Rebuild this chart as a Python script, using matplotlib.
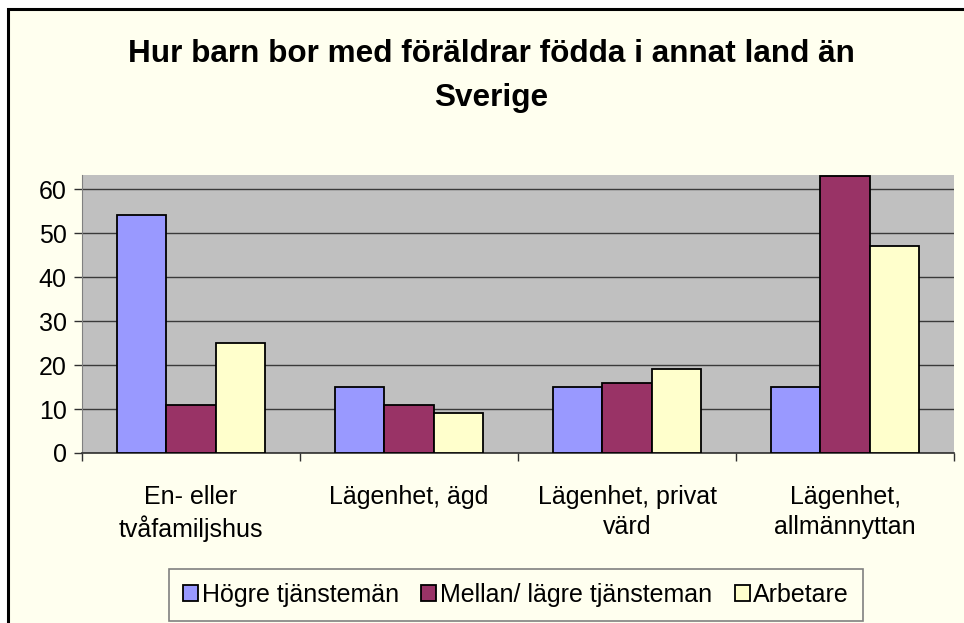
import numpy as np
import matplotlib
matplotlib.use("Agg")
import matplotlib.pyplot as plt
from matplotlib.patches import Rectangle

plt.rcParams["font.family"] = ["Liberation Sans", "DejaVu Sans"]

categories = ["En- eller\ntvåfamiljshus", "Lägenhet, ägd",
              "Lägenhet, privat\nvärd", "Lägenhet,\nallmännyttan"]
series = ["Högre tjänstemän", "Mellan/ lägre tjänsteman", "Arbetare"]
hogre = [54, 15, 15, 15]
mellan = [11, 11, 16, 63]
arbetare = [25, 9, 19, 47]
colors = ["#9999FF", "#993366", "#FFFFCC"]
yticks = [0, 10, 20, 30, 40, 50, 60]
title_lines = ["Hur barn bor med föräldrar födda i annat land än", "Sverige"]

bg = "#FFFFEF"
fig = plt.figure(figsize=(9.64, 6.23), dpi=100, facecolor="white")
# chart area with black frame (right/bottom edges fall outside the image)
fig.patches.append(Rectangle((8 / 964, -0.1), 1.2, 1.1 - 9 / 623,
                             transform=fig.transFigure, facecolor=bg,
                             edgecolor="black", linewidth=2.2, zorder=-5))

ax = fig.add_axes([82 / 964, 1 - 453 / 623, 872 / 964, 278 / 623])
ax.set_facecolor("#C0C0C0")

x = np.arange(len(categories))
w = 0.225
for i, (vals, name) in enumerate(zip([hogre, mellan, arbetare], series)):
    ax.bar(x + (i - 1) * w, vals, width=w, color=colors[i], edgecolor="black",
           linewidth=1.3, label=name, zorder=3)

ax.set_xlim(-0.5, len(categories) - 0.5)
ax.set_ylim(0, 63.2)
ax.set_yticks(yticks)
ax.yaxis.grid(True, color="#3A3A3A", linewidth=1.0, zorder=1)
ax.set_axisbelow(True)

ax.set_xticks(x)
ax.set_xticklabels(categories, fontsize=18, linespacing=1.3)
ax.set_xticks(np.arange(-0.5, len(categories)), minor=True)
ax.tick_params(axis="x", which="major", length=0, pad=23)
ax.tick_params(axis="x", which="minor", length=6, color="#303030", width=1)
ax.tick_params(axis="y", labelsize=18, length=6, color="#303030", width=1, pad=5)

for s in ["top", "right"]:
    ax.spines[s].set_visible(False)
ax.spines["left"].set_color("#808080")
ax.spines["bottom"].set_color("#303030")
ax.spines["bottom"].set_linewidth(1.2)

for line, base in zip(title_lines, [62, 106]):
    fig.text(491 / 964, 1 - base / 623, line, ha="center", va="baseline",
             fontsize=22.7, fontweight="bold")

leg = ax.legend(loc="center", bbox_to_anchor=(516 / 964, 1 - 595 / 623),
                bbox_transform=fig.transFigure, ncol=3, fontsize=18,
                frameon=True, fancybox=False, handlelength=0.6, handleheight=0.6,
                handletextpad=0.15, columnspacing=0.9, borderpad=0.55,
                borderaxespad=0)
leg.get_frame().set_edgecolor("#808080")
leg.get_frame().set_facecolor(bg)
leg.get_frame().set_alpha(1)
leg.get_frame().set_linewidth(1.2)

fig.savefig("out.png", dpi=100, facecolor="white")
